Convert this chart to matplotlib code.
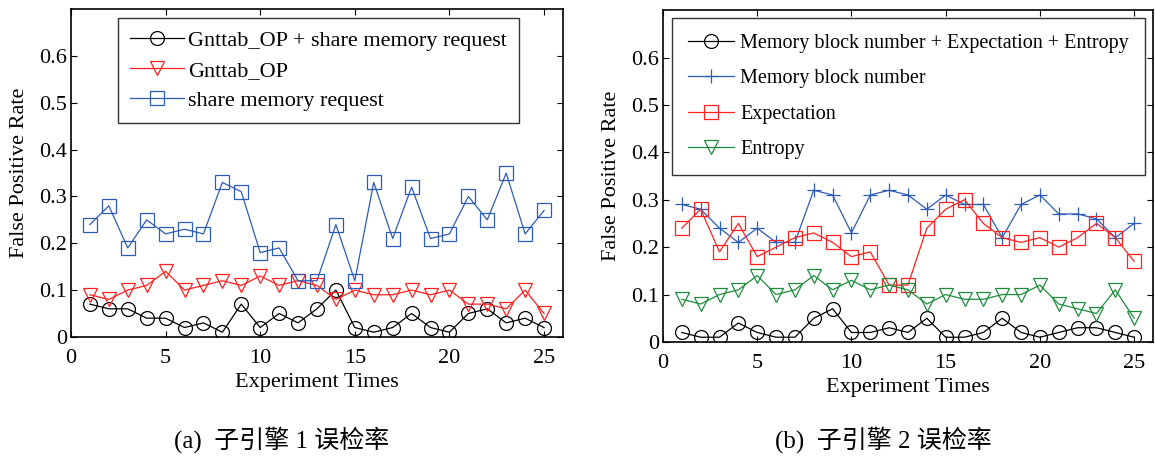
import matplotlib.pyplot as plt
import numpy as np

plt.rcParams['font.family'] = ['Liberation Serif', 'Noto Sans CJK SC']
plt.rcParams['font.size'] = 16

times = np.arange(1, 26)

# sub engine 1
combo1 = [0.07, 0.06, 0.06, 0.04, 0.04, 0.02, 0.03, 0.01, 0.07, 0.02, 0.05, 0.03, 0.06,
          0.10, 0.02, 0.01, 0.02, 0.05, 0.02, 0.01, 0.05, 0.06, 0.03, 0.04, 0.02]
gnttab = [0.09, 0.08, 0.10, 0.11, 0.14, 0.10, 0.11, 0.12, 0.11, 0.13, 0.11, 0.12, 0.11,
          0.08, 0.10, 0.09, 0.09, 0.10, 0.09, 0.10, 0.07, 0.07, 0.06, 0.10, 0.05]
share_mem = [0.24, 0.28, 0.19, 0.25, 0.22, 0.23, 0.22, 0.33, 0.31, 0.18, 0.19, 0.12, 0.12,
             0.24, 0.12, 0.33, 0.21, 0.32, 0.21, 0.22, 0.30, 0.25, 0.35, 0.22, 0.27]

# sub engine 2
combo2 = [0.02, 0.01, 0.01, 0.04, 0.02, 0.01, 0.01, 0.05, 0.07, 0.02, 0.02, 0.03, 0.02,
          0.05, 0.01, 0.01, 0.02, 0.05, 0.02, 0.01, 0.02, 0.03, 0.03, 0.02, 0.01]
block_num = [0.29, 0.28, 0.24, 0.21, 0.24, 0.21, 0.21, 0.32, 0.31, 0.23, 0.31, 0.32, 0.31,
             0.28, 0.31, 0.29, 0.29, 0.22, 0.29, 0.31, 0.27, 0.27, 0.26, 0.22, 0.25]
expectation = [0.24, 0.28, 0.19, 0.25, 0.18, 0.20, 0.22, 0.23, 0.21, 0.18, 0.19, 0.12, 0.12,
               0.24, 0.28, 0.30, 0.25, 0.22, 0.21, 0.22, 0.20, 0.22, 0.25, 0.22, 0.17]
entropy = [0.09, 0.08, 0.10, 0.11, 0.14, 0.10, 0.11, 0.14, 0.11, 0.13, 0.11, 0.12, 0.11,
           0.08, 0.10, 0.09, 0.09, 0.10, 0.10, 0.12, 0.08, 0.07, 0.06, 0.11, 0.05]

blue = '#2c5cb8'
red = '#ff2020'
green = '#1e8c3c'

fig = plt.figure(figsize=(11.56, 4.59), dpi=100)
ax1 = fig.add_axes([0.0614, 0.266, 0.4256, 0.714])
ax2 = fig.add_axes([0.5735, 0.255, 0.4239, 0.723])

mk = dict(markersize=10, markerfacecolor='none', linewidth=0.9, markeredgewidth=0.9)

ax1.plot(times, combo1, '-o', color='black', label='Gnttab_OP + share memory request', **mk)
ax1.plot(times, gnttab, '-v', color=red, label='Gnttab_OP', **mk)
ax1.plot(times, share_mem, '-s', color=blue, label='share memory request', **mk)

ax2.plot(times, combo2, '-o', color='black', label='Memory block number + Expectation + Entropy', **mk)
ax2.plot(times, block_num, '-+', color=blue, label='Memory block number', **mk)
ax2.plot(times, expectation, '-s', color=red, label='Expectation', **mk)
ax2.plot(times, entropy, '-v', color=green, label='Entropy', **mk)

for ax in (ax1, ax2):
    ax.set_xlim(0, 26)
    ax.set_ylim(0, 0.7)
    ax.set_xticks([0, 5, 10, 15, 20, 25])
    ax.set_yticks([0, 0.1, 0.2, 0.3, 0.4, 0.5, 0.6])
    ax.set_yticklabels(['0', '0.1', '0.2', '0.3', '0.4', '0.5', '0.6'])
    ax.tick_params(direction='in', top=True, right=True, length=4, width=0.8, labelsize=16)
    ax.tick_params(axis='x', pad=9)
    ax.tick_params(axis='y', pad=3)
    for s in ax.spines.values():
        s.set_linewidth(1.2)
    ax.set_xlabel('Experiment Times', fontsize=16, labelpad=3)
    ax.set_ylabel('False Positive Rate', fontsize=16, labelpad=7)

leg1 = ax1.legend(loc='upper left', bbox_to_anchor=(0.096, 0.973), borderaxespad=0,
                  fontsize=16, fancybox=False, edgecolor='black', handlelength=2.4,
                  labelspacing=0.42, borderpad=0.55, handletextpad=0.2)
leg1.get_frame().set_linewidth(1.0)
leg2 = ax2.legend(loc='upper left', bbox_to_anchor=(0.018, 0.976), borderaxespad=0,
                  fontsize=14.5, fancybox=False, edgecolor='black', handlelength=2.3,
                  labelspacing=0.8, borderpad=0.8, handletextpad=0.3)
leg2.get_frame().set_linewidth(1.0)

fig.text(0.244, 0.043, '(a)  子引擎 1 误检率', ha='center', va='center', fontsize=18)
fig.text(0.764, 0.043, '(b)  子引擎 2 误检率', ha='center', va='center', fontsize=18)

fig.savefig('out.png', dpi=100)
